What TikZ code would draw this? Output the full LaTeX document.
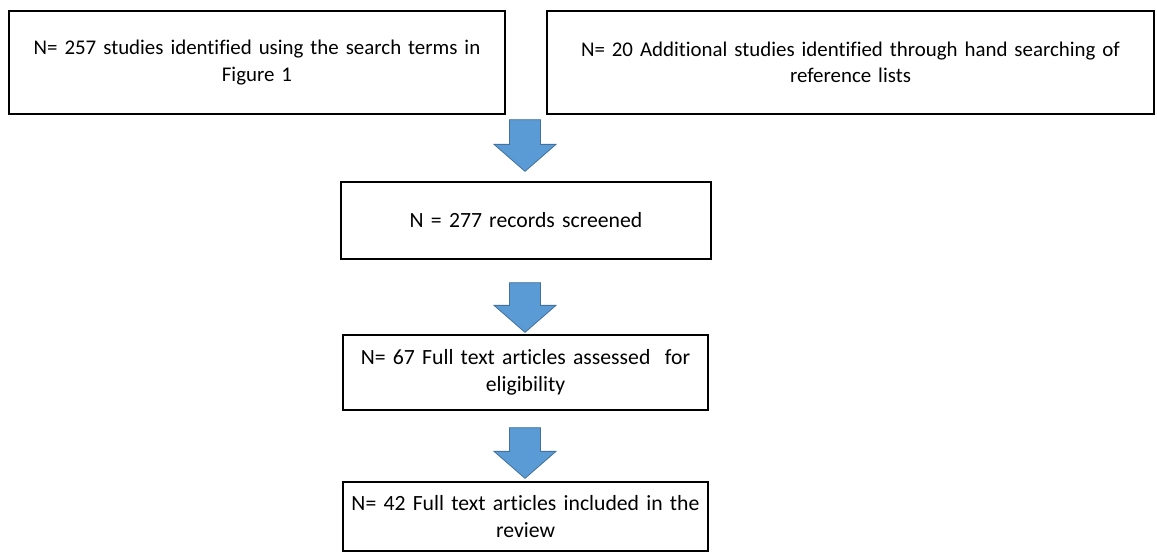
\documentclass[tikz,border=0pt]{standalone}
\usepackage{fontspec}
\setmainfont{Carlito}[Ligatures=NoCommon]
\usetikzlibrary{calc}
\definecolor{arrfill}{HTML}{5B9BD5}
\definecolor{arrline}{HTML}{41719C}
\tikzset{
  box/.style={draw=black, line width=1.3pt, fill=white, align=center, inner sep=0pt,
    font=\fontsize{21.7}{26.5}\selectfont},
  topbox/.style={box, font=\fontsize{20.9}{26.5}\selectfont},
  blockarrow/.style={fill=arrfill, draw=arrline, line width=0.8pt, line join=miter}
}
\newcommand\blockarr[2]{%
  \path[blockarrow] ($(#1)+(-15.5,0)$) -- ($(#1)+(15.5,0)$) -- ($(#2)+(15.5,-27)$)
    -- ($(#2)+(31,-27)$) -- (#2) -- ($(#2)+(-31,-27)$) -- ($(#2)+(-15.5,-27)$) -- cycle;}
\begin{document}
\begin{tikzpicture}[x=1pt,y=-1pt]
\useasboundingbox (0,0) rectangle (1157,552);
\node[topbox, minimum width=496pt, minimum height=103pt, text width=490pt] (b1) at (257,62.5)
  {N= 257 studies identified using the search terms in\\Figure 1};
\node[topbox, minimum width=607pt, minimum height=103pt, text width=600pt] (b2) at (850.5,62.5)
  {N= 20 Additional studies identified through hand searching of\\reference lists};
\node[box, minimum width=370pt, minimum height=77pt, text width=364pt] (b3) at (526,220.5)
  {N = 277 records screened};
\node[box, minimum width=365pt, minimum height=75pt, text width=362pt] (b4) at (525.5,372.5)
  {N= 67 Full text articles assessed\ \ for\\eligibility};
\node[box, minimum width=365pt, minimum height=69pt, text width=362pt] (b5) at (525.5,516.5)
  {N= 42 Full text articles included in the\\review};
\coordinate (a1s) at ($(b1.south east)!0.5!(b2.south west)+(-1,5)$);
\coordinate (a1t) at ($(b3.north)+(-1,-10)$);
\coordinate (a2s) at ($(b3.south)+(-1,23)$);
\coordinate (a2t) at ($(b4.north)+(-0.5,-2)$);
\coordinate (a3s) at ($(b4.south)+(-0.5,17)$);
\coordinate (a3t) at ($(b5.north)+(-0.5,-3)$);
\blockarr{a1s}{a1t}
\blockarr{a2s}{a2t}
\blockarr{a3s}{a3t}
\end{tikzpicture}
\end{document}
